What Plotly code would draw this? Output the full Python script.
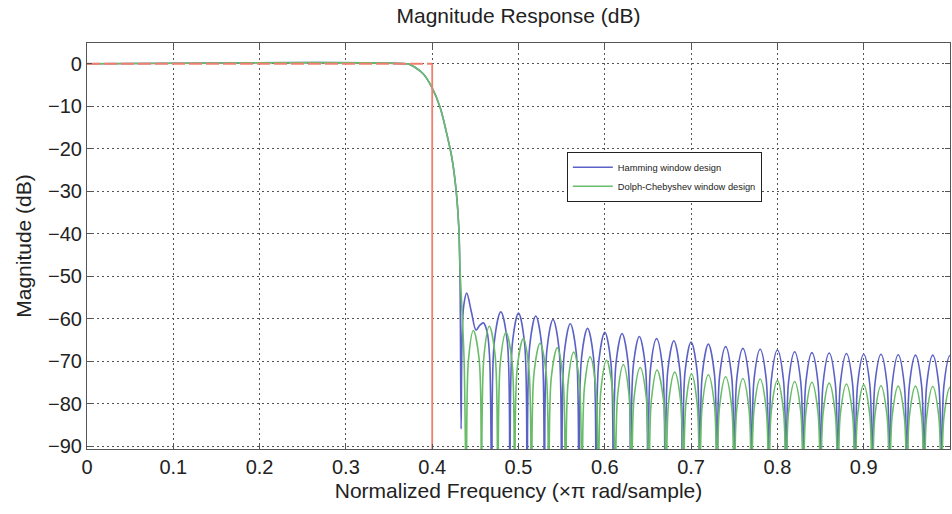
import plotly.graph_objects as go

# ---------------- data ----------------
x_tick_vals = [0, 0.1, 0.2, 0.3, 0.4, 0.5, 0.6, 0.7, 0.8, 0.9]
x_tick_text = ["0", "0.1", "0.2", "0.3", "0.4", "0.5", "0.6", "0.7", "0.8", "0.9"]
y_tick_vals = [0, -10, -20, -30, -40, -50, -60, -70, -80, -90]
y_tick_text = ["0", "\u221210", "\u221220", "\u221230", "\u221240", "\u221250",
               "\u221260", "\u221270", "\u221280", "\u221290"]

# ideal (specification) response
ideal_freq = [0.0, 0.4, 0.4]
ideal_db = [0, 0, -100]

# Hamming window design
hamming_freq = [
    0.0, 0.37, 0.3744, 0.38, 0.3898, 0.3995, 0.4091, 0.4169, 0.4227, 0.4277, 0.4308, 0.4322, 0.4335,
    0.4345, 0.4365, 0.440, 0.4455, 0.4508, 0.455, 0.4593, 0.4635, 0.4665, 0.469,
    0.472, 0.4795, 0.487, 0.490,
    0.493, 0.500, 0.507, 0.510,
    0.513, 0.520, 0.527, 0.530,
    0.533, 0.540, 0.547, 0.550,
    0.553, 0.560, 0.567, 0.570,
    0.573, 0.580, 0.587, 0.590,
    0.593, 0.600, 0.607, 0.610,
    0.613, 0.620, 0.627, 0.630,
    0.633, 0.640, 0.647, 0.650,
    0.653, 0.660, 0.667, 0.670,
    0.673, 0.680, 0.687, 0.690,
    0.693, 0.700, 0.707, 0.710,
    0.713, 0.720, 0.727, 0.730,
    0.733, 0.740, 0.747, 0.750,
    0.753, 0.760, 0.767, 0.770,
    0.773, 0.780, 0.787, 0.790,
    0.793, 0.800, 0.807, 0.810,
    0.813, 0.820, 0.827, 0.830,
    0.833, 0.840, 0.847, 0.850,
    0.853, 0.860, 0.867, 0.870,
    0.873, 0.880, 0.887, 0.890,
    0.893, 0.900, 0.907, 0.910,
    0.913, 0.920, 0.927, 0.930,
    0.933, 0.940, 0.947, 0.950,
    0.953, 0.960, 0.967, 0.970,
    0.973, 0.980, 0.987, 0.990,
    0.993, 1.000, 1.007, 1.010,
]
hamming_db = [
    0, 0, -0.2, -0.8, -2.4, -5.5, -10.2, -16.5, -22.0, -29.8, -38.5, -50, -86,
    -66, -57, -54, -58.5, -62.7, -61.6, -61.0, -63, -69, -100,
    -65.4, -58.4, -65.4, -100,
    -65.7, -58.7, -65.7, -100,
    -66.4, -59.4, -66.4, -100,
    -67.2, -60.2, -67.2, -100,
    -68.2, -61.2, -68.2, -100,
    -69.3, -62.3, -69.3, -100,
    -70.2, -63.2, -70.2, -100,
    -70.5, -63.5, -70.5, -100,
    -71.2, -64.2, -71.2, -100,
    -71.7, -64.7, -71.7, -100,
    -72.2, -65.2, -72.2, -100,
    -72.5, -65.5, -72.5, -100,
    -73.0, -66.0, -73.0, -100,
    -73.6, -66.6, -73.6, -100,
    -74.0, -67.0, -74.0, -100,
    -74.2, -67.2, -74.2, -100,
    -74.4, -67.4, -74.4, -100,
    -74.8, -67.8, -74.8, -100,
    -75.0, -68.0, -75.0, -100,
    -75.1, -68.1, -75.1, -100,
    -75.2, -68.2, -75.2, -100,
    -75.4, -68.4, -75.4, -100,
    -75.4, -68.4, -75.4, -100,
    -75.5, -68.5, -75.5, -100,
    -75.6, -68.6, -75.6, -100,
    -75.6, -68.6, -75.6, -100,
    -75.7, -68.7, -75.7, -100,
]

# Dolph-Chebyshev window design
chebyshev_freq = [
    0.0, 0.37, 0.3744, 0.38, 0.3898, 0.3995, 0.4091, 0.4169, 0.4227, 0.4277, 0.4308, 0.4322, 0.4345, 0.437, 0.4395,
    0.442, 0.4477, 0.4545, 0.457,
    0.460, 0.4662, 0.473, 0.476,
    0.479, 0.4855, 0.4925, 0.4955,
    0.4985, 0.5056, 0.512, 0.515,
    0.518, 0.525, 0.532, 0.535,
    0.538, 0.5449, 0.5515, 0.5545,
    0.5575, 0.564, 0.5705, 0.5735,
    0.5765, 0.583, 0.5895, 0.5925,
    0.5955, 0.602, 0.609, 0.612,
    0.615, 0.6215, 0.628, 0.631,
    0.634, 0.641, 0.648, 0.651,
    0.654, 0.6605, 0.668, 0.671,
    0.674, 0.681, 0.688, 0.691,
    0.694, 0.7005, 0.707, 0.710,
    0.713, 0.720, 0.727, 0.730,
    0.733, 0.740, 0.747, 0.750,
    0.753, 0.760, 0.767, 0.770,
    0.773, 0.780, 0.787, 0.790,
    0.793, 0.800, 0.807, 0.810,
    0.813, 0.820, 0.827, 0.830,
    0.833, 0.840, 0.847, 0.850,
    0.853, 0.860, 0.867, 0.870,
    0.873, 0.880, 0.887, 0.890,
    0.893, 0.900, 0.907, 0.910,
    0.913, 0.920, 0.927, 0.930,
    0.933, 0.940, 0.947, 0.950,
    0.953, 0.960, 0.967, 0.970,
    0.973, 0.980, 0.987, 0.990,
    0.993, 1.000, 1.007, 1.010,
]
chebyshev_db = [
    0, 0, -0.2, -0.8, -2.4, -5.5, -10.2, -16.5, -22.0, -29.8, -38.5, -48, -58, -70, -100,
    -69.8, -62.8, -69.8, -100,
    -68.8, -61.8, -68.8, -100,
    -70.2, -63.2, -70.2, -100,
    -71.7, -64.7, -71.7, -100,
    -72.8, -65.8, -72.8, -100,
    -73.9, -66.9, -73.9, -100,
    -74.9, -67.9, -74.9, -100,
    -76.0, -69.0, -76.0, -100,
    -76.8, -69.8, -76.8, -100,
    -77.8, -70.8, -77.8, -100,
    -78.5, -71.5, -78.5, -100,
    -79.1, -72.1, -79.1, -100,
    -79.6, -72.6, -79.6, -100,
    -80.0, -73.0, -80.0, -100,
    -80.2, -73.2, -80.2, -100,
    -80.7, -73.7, -80.7, -100,
    -81.1, -74.1, -81.1, -100,
    -81.2, -74.2, -81.2, -100,
    -81.6, -74.6, -81.6, -100,
    -81.8, -74.8, -81.8, -100,
    -82.0, -75.0, -82.0, -100,
    -82.2, -75.2, -82.2, -100,
    -82.4, -75.4, -82.4, -100,
    -82.6, -75.6, -82.6, -100,
    -82.8, -75.8, -82.8, -100,
    -82.9, -75.9, -82.9, -100,
    -82.9, -75.9, -82.9, -100,
    -83.0, -76.0, -83.0, -100,
    -83.2, -76.2, -83.2, -100,
]

# ---------------- figure ----------------
FONT = "Liberation Sans, Arial, Helvetica, sans-serif"
BLUE = "#5b61c6"
GREEN = "#69bd68"
RED = "#f07f6e"
TXT = "#222222"

fig = go.Figure()
fig.add_trace(go.Scatter(
    x=hamming_freq, y=hamming_db, mode="lines", name="Hamming window design",
    line=dict(color=BLUE, width=1.6, shape="spline", smoothing=1.0),
))
fig.add_trace(go.Scatter(
    x=chebyshev_freq, y=chebyshev_db, mode="lines", name="Dolph-Chebyshev window design",
    line=dict(color=GREEN, width=1.6, shape="spline", smoothing=1.0),
))
# specification mask: dashed passband level, solid band edge
fig.add_trace(go.Scatter(
    x=ideal_freq[:2], y=ideal_db[:2], mode="lines", name="Specification", showlegend=False,
    line=dict(color=RED, width=2, dash="13px,4px"),
))
fig.add_trace(go.Scatter(
    x=ideal_freq[1:], y=ideal_db[1:], mode="lines", name="Band edge", showlegend=False,
    line=dict(color=RED, width=1.8),
))

axis_common = dict(
    automargin=False,
    showline=True, linecolor="#555555", linewidth=1.2, mirror="ticks",
    ticks="inside", ticklen=5, tickcolor="#555555",
    showgrid=True, gridcolor="#555555", gridwidth=1, griddash="2px,3px",
    zeroline=False, tickfont=dict(family=FONT, size=20, color=TXT),
)

fig.update_layout(
    width=952, height=514,
    margin=dict(l=87, r=2, t=43, b=65),
    paper_bgcolor="white", plot_bgcolor="white",
    font=dict(family=FONT, color=TXT),
    title=dict(text="Magnitude Response (dB)", x=0.5, xref="paper", xanchor="center",
               y=1 - 16 / 514, yref="container", yanchor="middle",
               font=dict(family=FONT, size=21, color=TXT)),
    xaxis=dict(range=[0, 1], tickvals=x_tick_vals, ticktext=x_tick_text,
               title=dict(text="Normalized Frequency (\u00d7\u03c0 rad/sample)", standoff=6,
                          font=dict(family=FONT, size=21, color=TXT)),
               **axis_common),
    yaxis=dict(range=[-90.7, 4.9], tickvals=y_tick_vals, ticktext=y_tick_text,
               title=dict(text="Magnitude (dB)", standoff=10,
                          font=dict(family=FONT, size=21, color=TXT)),
               **axis_common),
    legend=dict(x=0.556, y=0.732, xanchor="left", yanchor="top",
                bgcolor="white", bordercolor=TXT, borderwidth=1,
                font=dict(family=FONT, size=9.3, color=TXT),
                itemwidth=40, tracegroupgap=0),
    showlegend=True,
)

fig.write_html(
    "out.html",
    config={"displayModeBar": False},
    post_script="document.body.style.margin='0';document.body.style.padding='0';",
)
